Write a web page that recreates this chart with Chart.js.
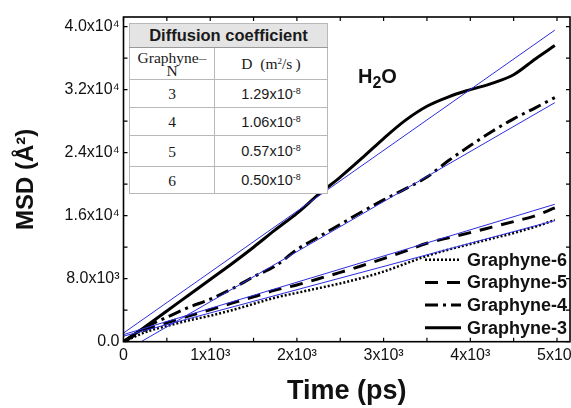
<!DOCTYPE html>
<html>
<head>
<meta charset="utf-8">
<script src="https://cdn.jsdelivr.net/npm/chart.js@4.4.0/dist/chart.umd.min.js"></script>
<style>
  html, body { margin: 0; padding: 0; background: #fff; overflow: hidden; }
  #wrap { position: relative; width: 600px; height: 408px; }
  #chart { position: absolute; left: 0; top: 0; }
  #diffTable {
    position: absolute; left: 129px; top: 23px; width: 198px;
    border-collapse: collapse; table-layout: fixed; background: #fff;
    border: 1.5px solid #333;
  }
  #diffTable td, #diffTable th {
    border: 1px solid #b8b8b8; padding: 0; text-align: center; color: #1a1a1a;
  }
  #diffTable th {
    height: 23px; background: #e4e4e4; font: bold 16.5px "Liberation Sans", Arial, sans-serif;
    border-bottom: 1px solid #999;
  }
  #diffTable .serif { font: 15.5px "Liberation Serif", serif; line-height: 13px; }
  #diffTable .val { font: 14.5px "Liberation Sans", Arial, sans-serif; }
  #diffTable sup { font-size: 9px; vertical-align: 5px; line-height: 0; }
  #h2o {
    position: absolute; left: 358px; top: 65px; line-height: 20px;
    font: bold 20px "Liberation Sans", Arial, sans-serif; color: #111;
  }
  #h2o sub { font-size: 16px; vertical-align: -5px; line-height: 0; }
</style>
</head>
<body>
<div id="wrap">
  <canvas id="chart" width="600" height="408"></canvas>
  <table id="diffTable">
    <colgroup><col style="width:85px"><col style="width:113px"></colgroup>
    <tbody id="diffBody">
      <tr><th colspan="2">Diffusion coefficient</th></tr>
      <tr style="height:32px"><td class="serif">Graphyne–<br>N</td><td class="serif">D &nbsp;(m<sup>2</sup>/s&thinsp;)</td></tr>
    </tbody>
  </table>
  <div id="h2o">H<sub>2</sub>O</div>
</div>
<script>
// MSD curves (time in ps, MSD in Å^2)
const timePs = [0, 250, 500, 750, 1000, 1250, 1500, 1750, 2000, 2250, 2500, 2750,
                3000, 3250, 3500, 3750, 4000, 4250, 4500, 4750, 4975];
const msdG3 = [0, 1900, 3900, 5900, 7900, 9900, 12000, 14200, 16300, 18700, 20900, 23300,
               25800, 28100, 29900, 31100, 32000, 32800, 33900, 35900, 37600];
const msdG4 = [0, 1800, 3100, 4350, 5400, 6700, 8250, 9600, 11700, 13300, 14900, 16500,
               18000, 19400, 20900, 23000, 24900, 26700, 28300, 29700, 31000];
const msdG5 = [0, 1500, 2400, 3250, 4050, 4900, 5700, 6550, 7200, 8000, 8800, 9650,
               10550, 11500, 12500, 13200, 13850, 14550, 15250, 16000, 17000];
const msdG6 = [0, 1200, 2000, 2700, 3300, 4000, 4800, 5600, 6200, 6800, 7400, 8100,
               8900, 9900, 10900, 11700, 12400, 13100, 13800, 14600, 15450];

// linear fits (blue): [startTime, startMsd, endTime, endMsd]
const fitG3 = [0, 1100, 4975, 39560];
const fitG4 = [203, 0, 4975, 30350];
const fitG5 = [0, 900, 4975, 17450];
const fitG6 = [0, 700, 4975, 15380];

const seriesNames = ['Graphyne-3', 'Graphyne-4', 'Graphyne-5', 'Graphyne-6'];
const legendOrder = ['Graphyne-6', 'Graphyne-5', 'Graphyne-4', 'Graphyne-3'];

// tick positions (labels only on every other one)
const xTickValues = [0, 500, 1000, 1500, 2000, 2500, 3000, 3500, 4000, 4500, 5000];
const yTickValues = [0, 4000, 8000, 12000, 16000, 20000, 24000, 28000, 32000, 36000, 40000];

// inset table
const graphyneN = ['3', '4', '5', '6'];
const diffMantissa = ['1.29', '1.06', '0.57', '0.50'];
const diffExponent = ['-8', '-8', '-8', '-8'];

const rowHeights = [28, 28, 31, 27];
const body = document.getElementById('diffBody');
graphyneN.forEach((n, i) => {
    const tr = document.createElement('tr');
    tr.style.height = rowHeights[i] + 'px';
    tr.innerHTML = `<td class="serif">${n}</td><td class="val">${diffMantissa[i]}x10<sup>${diffExponent[i]}</sup></td>`;
    body.appendChild(tr);
});

const SUP = { '3': '\u00b3', '4': '\u2074' };
function sciLabel(v, digits) {
    if (v === 0) return digits ? '0.0' : '0';
    const e = Math.floor(Math.log10(v));
    const m = v / Math.pow(10, e);
    return (digits ? m.toFixed(1) : String(Math.round(m))) + 'x10' + SUP[String(e)];
}

const pts = (vals) => timePs.map((t, i) => ({ x: t, y: vals[i] }));
const fitPts = (f) => [{ x: f[0], y: f[1] }, { x: f[2], y: f[3] }];

const blue = '#2d2de0';
const styles = {
    'Graphyne-3': [],
    'Graphyne-4': [13, 5, 3, 5],
    'Graphyne-5': [13, 9],
    'Graphyne-6': [2, 2],
};
const widths = { 'Graphyne-3': 3, 'Graphyne-4': 3, 'Graphyne-5': 3, 'Graphyne-6': 2.5 };

const curves = [msdG3, msdG4, msdG5, msdG6].map((vals, i) => ({
    label: seriesNames[i],
    data: pts(vals),
    borderColor: '#000',
    borderWidth: widths[seriesNames[i]],
    borderDash: styles[seriesNames[i]],
    pointRadius: 0,
    cubicInterpolationMode: 'monotone',
    order: 1,
}));
const fits = [fitG3, fitG4, fitG5, fitG6].map((f, i) => ({
    label: 'fit ' + seriesNames[i],
    data: fitPts(f),
    borderColor: blue,
    borderWidth: 1,
    pointRadius: 0,
    order: 0,
}));

// frame on all four sides with inward ticks
const frameTicks = {
    id: 'frameTicks',
    afterDatasetsDraw(chart) {
        const { ctx, chartArea: a, scales: { x, y } } = chart;
        ctx.save();
        ctx.strokeStyle = '#000';
        ctx.lineWidth = 1.6;
        ctx.strokeRect(a.left, a.top, a.right - a.left, a.bottom - a.top);
        ctx.lineWidth = 1.2;
        ctx.beginPath();
        x.ticks.forEach(t => {
            const px = x.getPixelForValue(t.value);
            ctx.moveTo(px, a.bottom); ctx.lineTo(px, a.bottom - 4);
            ctx.moveTo(px, a.top); ctx.lineTo(px, a.top + 4);
        });
        y.ticks.forEach(t => {
            const py = y.getPixelForValue(t.value);
            ctx.moveTo(a.left, py); ctx.lineTo(a.left + 4, py);
            ctx.moveTo(a.right, py); ctx.lineTo(a.right - 4, py);
        });
        ctx.stroke();
        ctx.restore();
    }
};

// legend inside the plot, lower right
const insideLegend = {
    id: 'insideLegend',
    afterDraw(chart) {
        const { ctx, chartArea: a } = chart;
        ctx.save();
        ctx.font = 'bold 18px "Liberation Sans", Arial, sans-serif';
        ctx.textBaseline = 'middle';
        ctx.fillStyle = '#111';
        legendOrder.forEach((name, i) => {
            const yy = a.bottom - 82 + i * 22.7;
            ctx.strokeStyle = '#000';
            ctx.lineWidth = widths[name];
            ctx.setLineDash(styles[name]);
            ctx.beginPath();
            ctx.moveTo(a.right - 145, yy);
            ctx.lineTo(a.right - 109, yy);
            ctx.stroke();
            ctx.setLineDash([]);
            ctx.fillText(name, a.right - 103, yy + 1);
        });
        ctx.restore();
    }
};

const tickFont = { family: '"Liberation Sans", Arial, sans-serif', size: 16 };

new Chart(document.getElementById('chart'), {
    type: 'line',
    data: { datasets: [...curves, ...fits] },
    options: {
        responsive: false,
        animation: false,
        layout: { padding: { top: 17, right: 30, bottom: 0, left: 0 } },
        plugins: { legend: { display: false }, tooltip: { enabled: false } },
        scales: {
            x: {
                type: 'linear',
                min: 0,
                max: 5150,
                grid: { display: false, drawTicks: false },
                border: { display: false },
                afterBuildTicks: (s) => { s.ticks = xTickValues.map(v => ({ value: v })); },
                ticks: {
                    autoSkip: false,
                    maxRotation: 0,
                    padding: 4,
                    color: '#111',
                    font: tickFont,
                    callback: (v) => v % 1000 === 0 ? sciLabel(v, false) : '',
                },
                title: {
                    display: true,
                    text: 'Time (ps)',
                    color: '#111',
                    font: { family: '"Liberation Sans", Arial, sans-serif', size: 27, weight: 'bold' },
                    padding: { top: 0, bottom: 0 },
                },
                afterFit: (s) => { s.height = 66.3; },
            },
            y: {
                min: 0,
                max: 41230,
                grid: { display: false, drawTicks: false },
                border: { display: false },
                afterBuildTicks: (s) => { s.ticks = yTickValues.map(v => ({ value: v })); },
                ticks: {
                    autoSkip: false,
                    padding: 4,
                    color: '#111',
                    font: tickFont,
                    callback: (v) => v % 8000 === 0 ? sciLabel(v, true) : '',
                },
                title: {
                    display: true,
                    text: 'MSD (Å²)',
                    color: '#111',
                    font: { family: '"Liberation Sans", Arial, sans-serif', size: 24, weight: 'bold' },
                    padding: { top: 12, bottom: 0 },
                },
                afterFit: (s) => { s.width = 123.5; },
            },
        },
    },
    plugins: [frameTicks, insideLegend],
});
</script>
</body>
</html>
